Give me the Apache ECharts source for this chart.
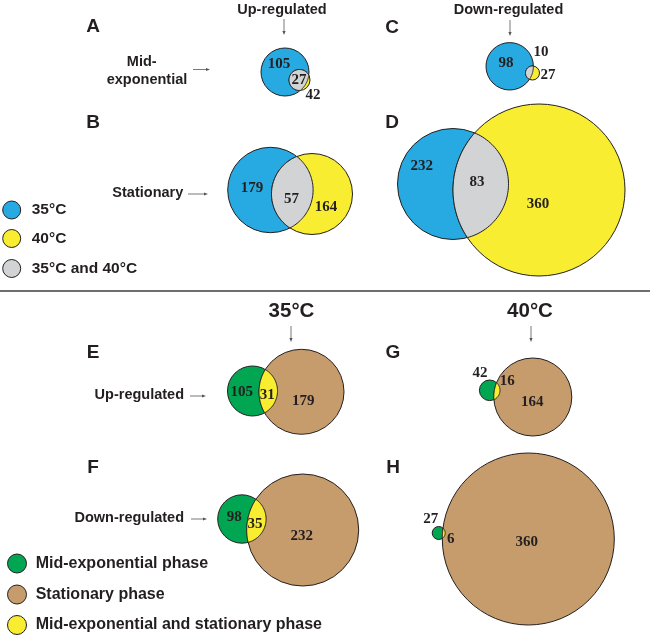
<!DOCTYPE html>
<html><head><meta charset="utf-8">
<script src="https://cdn.jsdelivr.net/npm/echarts@6/dist/echarts.min.js"></script>
<style>html,body{margin:0;padding:0;background:#fff}#chart{width:650px;height:637px}</style>
</head><body><div id="chart"></div>
<script>
// ---------- data ----------
const panels = ['A','B','C','D','E','F','G','H'];
const onlyFirst = [105,179,98,232,105,98,42,27];
const shared = [27,57,10,83,31,35,16,6];
const onlySecond = [42,164,27,360,179,232,164,360];
const legendTop = ['35°C','40°C','35°C and 40°C'];
const legendBottom = ['Mid-exponential phase','Stationary phase','Mid-exponential and stationary phase'];
const rowLabelsTop = ['Mid-', 'exponential', 'Stationary'];
const rowLabelsBottom = ['Up-regulated', 'Down-regulated'];
const colTitlesTop = ['Up-regulated', 'Down-regulated'];
const colTitlesBottom = ['35°C', '40°C'];

// ---------- layout (positions / sizes) ----------
// per panel: [cx1, cy1, r1, cx2, cy2, r2]
const circleLayout = [
  [285,72,24, 299.5,80,10.5],
  [270.4,190,42.7, 312,194,40.5],
  [509.7,66.3,23.7, 532.5,73,7],
  [453,184,55.5, 539,190,86],
  [252.5,391,25, 301.5,391.8,42.5],
  [241.9,519,24.2, 302.7,530,56],
  [489.7,390.3,10.3, 532.8,397,39],
  [438.7,533,6.5, 528.3,539,86]
];
// per panel label anchors: [first, shared, second]
const labelLayout = [
  [[279,64],[299,80],[313,95]],
  [[252,188],[291.5,199],[326,207]],
  [[506,63],[541,52],[548,75]],
  [[421.7,166],[477,181.7],[538,204]],
  [[241.7,391.7],[267.3,395],[303.3,400.7]],
  [[234.3,517.3],[255,524],[301.7,536]],
  [[480,372.7],[507.3,380.7],[532.3,401.7]],
  [[430.7,519.3],[450.7,539.3],[526.7,541.7]]
];
const letterLayout = [[93,27],[93,123],[392,28],[392,123],[93,353],[93,468],[393,353],[393,468]];

// ---------- styles ----------
const BLUE='#27aae1', YELLOW='#f9ed32', GRAY='#d1d3d4', GREEN='#00a651', BROWN='#c69c6d';
const INK='#231f20', ARROW='#555555';
const palettes = [[BLUE,YELLOW,GRAY],[GREEN,BROWN,YELLOW]];
const SANS='"Liberation Sans", Arial, sans-serif';
const SERIF='"Liberation Serif", "Times New Roman", serif';

function lensPoints(c1, r1, c2, r2, n){
  const dx=c2[0]-c1[0], dy=c2[1]-c1[1];
  const d=Math.sqrt(dx*dx+dy*dy);
  const t12=Math.atan2(dy,dx), t21=t12+Math.PI;
  const a1=Math.acos(Math.max(-1,Math.min(1,(d*d+r1*r1-r2*r2)/(2*d*r1))));
  const a2=Math.acos(Math.max(-1,Math.min(1,(d*d+r2*r2-r1*r1)/(2*d*r2))));
  const pts=[];
  for(let k=0;k<=n;k++){const t=t12-a1+2*a1*k/n;pts.push([c1[0]+r1*Math.cos(t),c1[1]+r1*Math.sin(t)]);}
  for(let k=0;k<=n;k++){const t=t21-a2+2*a2*k/n;pts.push([c2[0]+r2*Math.cos(t),c2[1]+r2*Math.sin(t)]);}
  return pts;
}

function renderItem(params, api){
  const i = api.value(0);
  const L = circleLayout[i];
  const pal = palettes[i<4?0:1];
  const c1 = api.coord([L[0],L[1]]), c2 = api.coord([L[3],L[4]]);
  const r1 = Math.abs(api.size([L[2],0])[0]), r2 = Math.abs(api.size([L[5],0])[0]);
  const lw = 1;
  const children = [
    {type:'circle', shape:{cx:c1[0],cy:c1[1],r:r1}, style:{fill:pal[0],stroke:INK,lineWidth:lw}},
    {type:'circle', shape:{cx:c2[0],cy:c2[1],r:r2}, style:{fill:pal[1],stroke:INK,lineWidth:lw}},
    {type:'polygon', shape:{points:lensPoints(c1,r1,c2,r2,60)}, style:{fill:pal[2],stroke:INK,lineWidth:lw}}
  ];
  const vals=[api.value(1),api.value(2),api.value(3)];
  labelLayout[i].forEach((p,k)=>{
    const q=api.coord(p);
    children.push({type:'text', x:q[0], y:q[1], style:{text:String(vals[k]), font:'bold 15px '+SERIF, fill:INK, align:'center', verticalAlign:'middle', textAlign:'center', textVerticalAlign:'middle'}});
  });
  return {type:'group', children};
}

function txt(s,x,y,size,align){
  return {type:'text', x:x, y:y, silent:true, style:{text:s, font:'bold '+size+'px '+SANS, fill:INK, align:align||'center', verticalAlign:'middle', textAlign:align||'center', textVerticalAlign:'middle'}};
}
function hArrow(x1,x2,y){
  return [
    {type:'line', shape:{x1:x1,y1:y,x2:x2-3,y2:y}, style:{stroke:ARROW,lineWidth:0.8}},
    {type:'polygon', shape:{points:[[x2,y],[x2-4,y-1.6],[x2-4,y+1.6]]}, style:{fill:ARROW}}
  ];
}
function vArrow(x,y1,y2){
  return [
    {type:'line', shape:{x1:x,y1:y1,x2:x,y2:y2-3}, style:{stroke:ARROW,lineWidth:0.8}},
    {type:'polygon', shape:{points:[[x,y2],[x-1.6,y2-4],[x+1.6,y2-4]]}, style:{fill:ARROW}}
  ];
}
function legendDot(x,y,r,color){
  return {type:'circle', shape:{cx:x,cy:y,r:r}, style:{fill:color,stroke:INK,lineWidth:1}};
}

const g = [];
// panel letters
panels.forEach((p,i)=>g.push(txt(p,letterLayout[i][0],letterLayout[i][1],19)));
// column titles
g.push(txt(colTitlesTop[0],282,9.5,14.5));
g.push(txt(colTitlesTop[1],508.5,10,14.5));
g.push(...vArrow(284,19,35));
g.push(...vArrow(510,20,36));
g.push(txt(colTitlesBottom[0],291.5,311.7,20.5));
g.push(txt(colTitlesBottom[1],530,311.7,20.5));
g.push(...vArrow(291,326,342));
g.push(...vArrow(531,326,342));
// row labels
g.push(txt(rowLabelsTop[0],141.7,62,14.5));
g.push(txt(rowLabelsTop[1],147,80,14.5));
g.push(...hArrow(193,210,69.5));
g.push(txt(rowLabelsTop[2],147.8,193,14.5));
g.push(...hArrow(188,208,194));
g.push(txt(rowLabelsBottom[0],184,395,14.5,'right'));
g.push(...hArrow(190,206,396));
g.push(txt(rowLabelsBottom[1],184,518,14.5,'right'));
g.push(...hArrow(191,207,519));
// separator
g.push({type:'line', shape:{x1:0,y1:291,x2:650,y2:291}, style:{stroke:'#6d6e71',lineWidth:2}});
// legends
const topCols=[BLUE,YELLOW,GRAY], topY=[210,238.5,268.5];
legendTop.forEach((s,k)=>{g.push(legendDot(11.7,topY[k],9,topCols[k])); g.push(txt(s,31.7,topY[k],15.5,'left'));});
const botCols=[GREEN,BROWN,YELLOW], botY=[563.5,594.5,625];
legendBottom.forEach((s,k)=>{g.push(legendDot(17,botY[k],9.5,botCols[k])); g.push(txt(s,35.7,botY[k],16,'left'));});

const chart = echarts.init(document.getElementById('chart'), null, {renderer:'canvas'});
chart.setOption({
  animation:false,
  backgroundColor:'#ffffff',
  grid:{left:0,right:0,top:0,bottom:0},
  xAxis:{type:'value',min:0,max:650,show:false},
  yAxis:{type:'value',min:0,max:637,inverse:true,show:false},
  series:[{
    type:'custom', clip:false, silent:true,
    renderItem:renderItem,
    data: panels.map((p,i)=>[i, onlyFirst[i], shared[i], onlySecond[i]])
  }],
  graphic:{elements:g}
});
</script></body></html>
